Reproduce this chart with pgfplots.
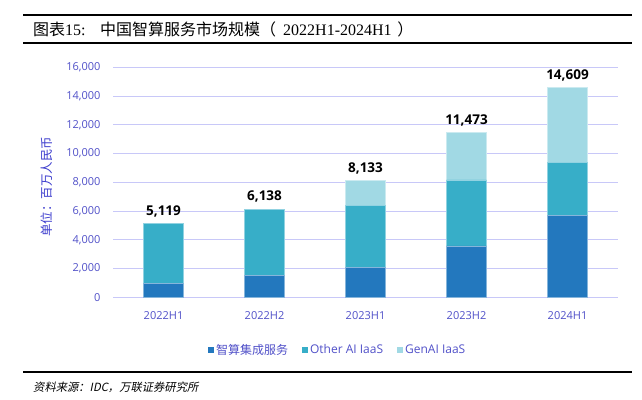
\documentclass[border=0pt]{standalone}
\usepackage{pgfplots}
\pgfplotsset{compat=1.18}
\usepackage{fontspec}
\setmainfont{Liberation Serif}
\newfontfamily\cjk{Noto Sans CJK SC}
\newfontfamily\cjkit[FakeSlant=0.2]{Noto Sans CJK SC}
\newfontfamily\osans{Open Sans}
\definecolor{cA}{RGB}{35,120,190}
\definecolor{cB}{RGB}{55,174,200}
\definecolor{cC}{RGB}{161,217,228}
\definecolor{gridc}{RGB}{200,200,248}
\definecolor{tickc}{RGB}{80,80,200}
\definecolor{ylabc}{RGB}{60,60,205}
\begin{document}
\begin{tikzpicture}
\useasboundingbox (0,0) rectangle (642pt,399pt);
% title rules
\draw[line width=1.6pt] (23pt,384pt) -- (632pt,384pt);
\draw[line width=1.6pt] (23pt,356pt) -- (632pt,356pt);
\node[anchor=west, inner sep=0pt, font=\fontsize{16}{19}\selectfont] at (33pt,369.5pt)
  {{\cjk 图表}15:\hspace{0.9em}{\cjk 中国智算服务市场规模（}\hspace{0.45em}2022H1-2024H1\hspace{0.35em}{\cjk ）}};
% footer
\draw[line width=1.6pt] (23pt,27pt) -- (632pt,27pt);
\node[anchor=west, inner sep=0pt, font=\cjkit\fontsize{11.3}{14}\selectfont] at (33pt,12pt)
  {资料来源：IDC，万联证券研究所};
% y label
\node[rotate=90, font=\cjk\fontsize{12.5}{15}\selectfont, text=ylabc] at (47pt,212pt) {单位：百万人民币};
\begin{axis}[
  at={(113pt,101.7pt)}, anchor=south west,
  scale only axis, width=505pt, height=230pt,
  xmin=-0.5, xmax=4.5, ymin=0, ymax=16000,
  ybar stacked, bar width=0.4,
  xtick={0,1,2,3,4},
  xticklabels={2022H1,2022H2,2023H1,2023H2,2024H1},
  ytick={0,2000,4000,6000,8000,10000,12000,14000,16000},
  ymajorgrids, grid style={color=gridc, line width=0.8pt},
  axis line style={draw=none}, major tick length=0pt,
  scaled y ticks=false,
  /pgf/number format/assume math mode=true,
  yticklabel style={/pgf/number format/1000 sep={,}, xshift=-9pt},
  xticklabel style={yshift=-11pt},
  tick label style={font=\osans\fontsize{11}{13}\selectfont, text=tickc},
  legend columns=3,
  legend style={at={(0.445,-0.229)}, anchor=center, draw=none, fill=none,
    font=\osans\fontsize{12}{14}\selectfont, text=tickc,
    /tikz/every even column/.append style={column sep=12pt}},
  legend image code/.code={\fill[#1,draw=none] (0pt,-3pt) rectangle (6pt,3pt);},
  clip=false,
]
\addplot[fill=cA, draw=cA!55!white, line width=0.6pt] coordinates {(0,980) (1,1500) (2,2060) (3,3570) (4,5677)};
\addlegendentry{{\cjk 智算集成服务}}
\addplot[fill=cB, draw=cB!55!white, line width=0.6pt] coordinates {(0,4139) (1,4638) (2,4312) (3,4590) (4,3714)};
\addlegendentry{Other AI IaaS}
\addplot[fill=cC, draw=cC!55!white, line width=0.6pt] coordinates {(0,0) (1,0) (2,1761) (3,3313) (4,5218)};
\addlegendentry{GenAI IaaS}
\end{axis}
% totals
\begin{axis}[
  at={(113pt,101.7pt)}, anchor=south west,
  scale only axis, width=505pt, height=230pt,
  xmin=-0.5, xmax=4.5, ymin=0, ymax=16000,
  hide axis, clip=false,
  /pgf/number format/assume math mode=true,
]
\addplot[draw=none, mark=none,
  nodes near coords={\pgfmathprintnumber[1000 sep={,},fixed,precision=0]{\pgfplotspointmeta}},
  nodes near coords style={font=\osans\bfseries\fontsize{13.5}{16}\selectfont, text=black, anchor=south, yshift=3pt}]
  coordinates {(0,5119) (1,6138) (2,8133) (3,11473) (4,14609)};
\end{axis}
\end{tikzpicture}
\end{document}
